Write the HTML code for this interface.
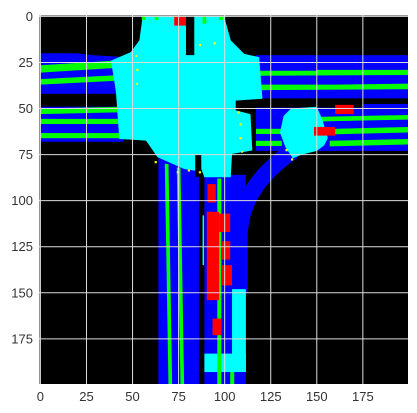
<!DOCTYPE html>
<html><head><meta charset="utf-8"><style>
html,body{margin:0;padding:0;background:#fff;width:417px;height:413px;overflow:hidden}
svg{display:block;font-family:"Liberation Sans",sans-serif}
</style></head><body>
<svg id="chart" width="417" height="413" viewBox="0 0 417 413" xmlns="http://www.w3.org/2000/svg">
<svg x="39.5" y="15.5" width="368.5" height="368.5" viewBox="-0.5 -0.5 200 200" preserveAspectRatio="none">
<rect x="-0.5" y="-0.5" width="200" height="200" fill="#000"/>
<!-- left road -->
<g>
<polygon fill="#0000ff" points="0,20 20,20 28,21 45,22 45,68 0,68"/>
<rect x="0" y="42" width="45" height="7" fill="#000"/>
<g fill="#00ff00">
<polygon points="0,26.5 40,24 40,28 0,30.5"/>
<polygon points="0,34 40,32 40,35 0,37"/>
<polygon points="0,50 44,49 44,52 0,53"/>
<rect x="0" y="55.6" width="44" height="2.8"/>
<rect x="0" y="63.3" width="44" height="2.8"/>
</g></g>
<!-- right road -->
<g>
<rect x="117" y="21" width="83" height="52" fill="#0000ff"/>
<rect x="105" y="44.5" width="70" height="5" fill="#000"/>
<rect x="175" y="44.5" width="25" height="3" fill="#000"/>
<g fill="#00ff00">
<polygon points="119,29.5 150,29.5 150,29 200,29 200,31.8 119,32.2"/>
<polygon points="119,37 160,37 200,36.5 200,39.5 119,40"/>
<polygon points="150,54.5 200,53.5 200,56 150,57"/>
<rect x="117" y="61" width="18" height="2.8"/>
<polygon points="158,61 200,60 200,63 158,64"/>
<rect x="117" y="67.5" width="14" height="2.8"/>
<polygon points="157,67.5 200,66.5 200,69.5 157,70.5"/>
</g></g>
<!-- lower roads -->
<g>
<rect x="64" y="77" width="22" height="123" fill="#0000ff"/>
<polygon points="67.5,80 69.5,80 71.5,200 69.5,200" fill="#00ff00"/>
<polygon points="74,82 76,82 78,200 76,200" fill="#00ff00"/>
</g>
<g>
<rect x="89" y="86" width="22.5" height="114" fill="#0000ff"/>
<path d="M108 150 L108 118 Q109 92 137 73" stroke="#0000ff" stroke-width="9" fill="none"/>
<rect x="104" y="148" width="7.5" height="45" fill="#00ffff"/>
<rect x="89" y="183" width="22.5" height="10" fill="#00ffff"/>
<rect x="96" y="88" width="2.2" height="112" fill="#00ff00"/>
<rect x="103" y="193" width="2.2" height="7" fill="#00ff00"/>
<rect x="88" y="108" width="0.8" height="27" fill="#00ffff"/>
</g>
<!-- intersections -->
<polygon fill="#00ffff" points="55.5,0 99.7,0 103.3,13 110.6,20.3 118.7,22.1 120.5,44.7 106,45.7 106,51 114,53 115,72.8 104,74.6 103.3,87.3 89,87.3 87,82 83.5,83.7 78,82.8 63.6,76.4 57.3,67.4 42.8,66.5 41,41 38.3,24 49,19.4 53.7,13"/>
<rect x="79" y="0" width="4.5" height="21" fill="#000"/>
<rect x="84" y="75" width="3.3" height="12" fill="#000"/>
<rect x="55" y="0" width="2" height="2" fill="#00ff00"/><rect x="62" y="0" width="2" height="2" fill="#00ff00"/>
<rect x="88" y="0" width="2" height="4" fill="#00ff00"/><rect x="97" y="0" width="2" height="2" fill="#00ff00"/>
<polygon fill="#00ffff" points="136,50 150,49 153,56 156,66 154,70 150,73 142,75 137,77 133,71 130,63 132,54"/>
<!-- vehicles -->
<g fill="#ff0000">
<rect x="72.6" y="0" width="6.4" height="5"/>
<rect x="90.7" y="91" width="4.5" height="10"/>
<rect x="90.3" y="106" width="6.7" height="48"/>
<rect x="97" y="107" width="6" height="10"/>
<rect x="98" y="122" width="5" height="10"/>
<rect x="98" y="135" width="6" height="11"/>
<rect x="93.4" y="164" width="4.9" height="9"/>
<rect x="160" y="48" width="10" height="5"/>
<rect x="148.5" y="60" width="11.5" height="4.7"/>
</g>
<g fill="#ffff00">
<rect x="86" y="15" width="1.2" height="1.2"/><rect x="94" y="14" width="1.2" height="1.2"/>
<rect x="51.5" y="21" width="1" height="1"/><rect x="52" y="28.5" width="1.2" height="1.2"/><rect x="52" y="36" width="1" height="1.2"/>
<rect x="107" y="51.5" width="1.2" height="1.2"/><rect x="108" y="58" width="1.2" height="1.2"/><rect x="108" y="65.5" width="1.2" height="1.2"/><rect x="109" y="73" width="1" height="1"/>
<rect x="62" y="78.5" width="1.2" height="1.2"/><rect x="74" y="84" width="1.2" height="1.2"/><rect x="80" y="83" width="1.2" height="1.2"/><rect x="86" y="84" width="1.2" height="1.2"/>
<rect x="133" y="72" width="1.2" height="1.2"/><rect x="136" y="77" width="1.2" height="1.2"/>
</g>
</svg>
<g id="grid"></g>
<g id="labels" fill="#333" font-size="13"></g>
</svg>
<script>
const xTicks = [0, 25, 50, 75, 100, 125, 150, 175];
const yTicks = [0, 25, 50, 75, 100, 125, 150, 175];
const x0 = 39.5, y0 = 15.5, size = 368.5, n = 200;
const sx = d => x0 + (d + 0.5) * size / n;
const sy = d => y0 + (d + 0.5) * size / n;
const NS = "http://www.w3.org/2000/svg";
const grid = document.getElementById('grid'), labels = document.getElementById('labels');
xTicks.forEach(t => {
  const l = document.createElementNS(NS, 'line');
  l.setAttribute('x1', sx(t)); l.setAttribute('x2', sx(t));
  l.setAttribute('y1', y0); l.setAttribute('y2', y0 + size);
  l.setAttribute('stroke', '#dcdcdc'); l.setAttribute('stroke-width', '1');
  
  
  grid.appendChild(l);
  const tx = document.createElementNS(NS, 'text');
  tx.setAttribute('x', sx(t)); tx.setAttribute('y', 401);
  tx.setAttribute('text-anchor', 'middle');
  tx.textContent = t;
  
  
  labels.appendChild(tx);
});
yTicks.forEach(t => {
  const l = document.createElementNS(NS, 'line');
  l.setAttribute('y1', sy(t)); l.setAttribute('y2', sy(t));
  l.setAttribute('x1', x0); l.setAttribute('x2', x0 + size);
  l.setAttribute('stroke', '#dcdcdc'); l.setAttribute('stroke-width', '1');
  
  
  grid.appendChild(l);
  const tx = document.createElementNS(NS, 'text');
  tx.setAttribute('x', 33); tx.setAttribute('y', sy(t) + 4.5);
  tx.setAttribute('text-anchor', 'end');
  tx.textContent = t;
  
  
  labels.appendChild(tx);
});
</script>
</body></html>
